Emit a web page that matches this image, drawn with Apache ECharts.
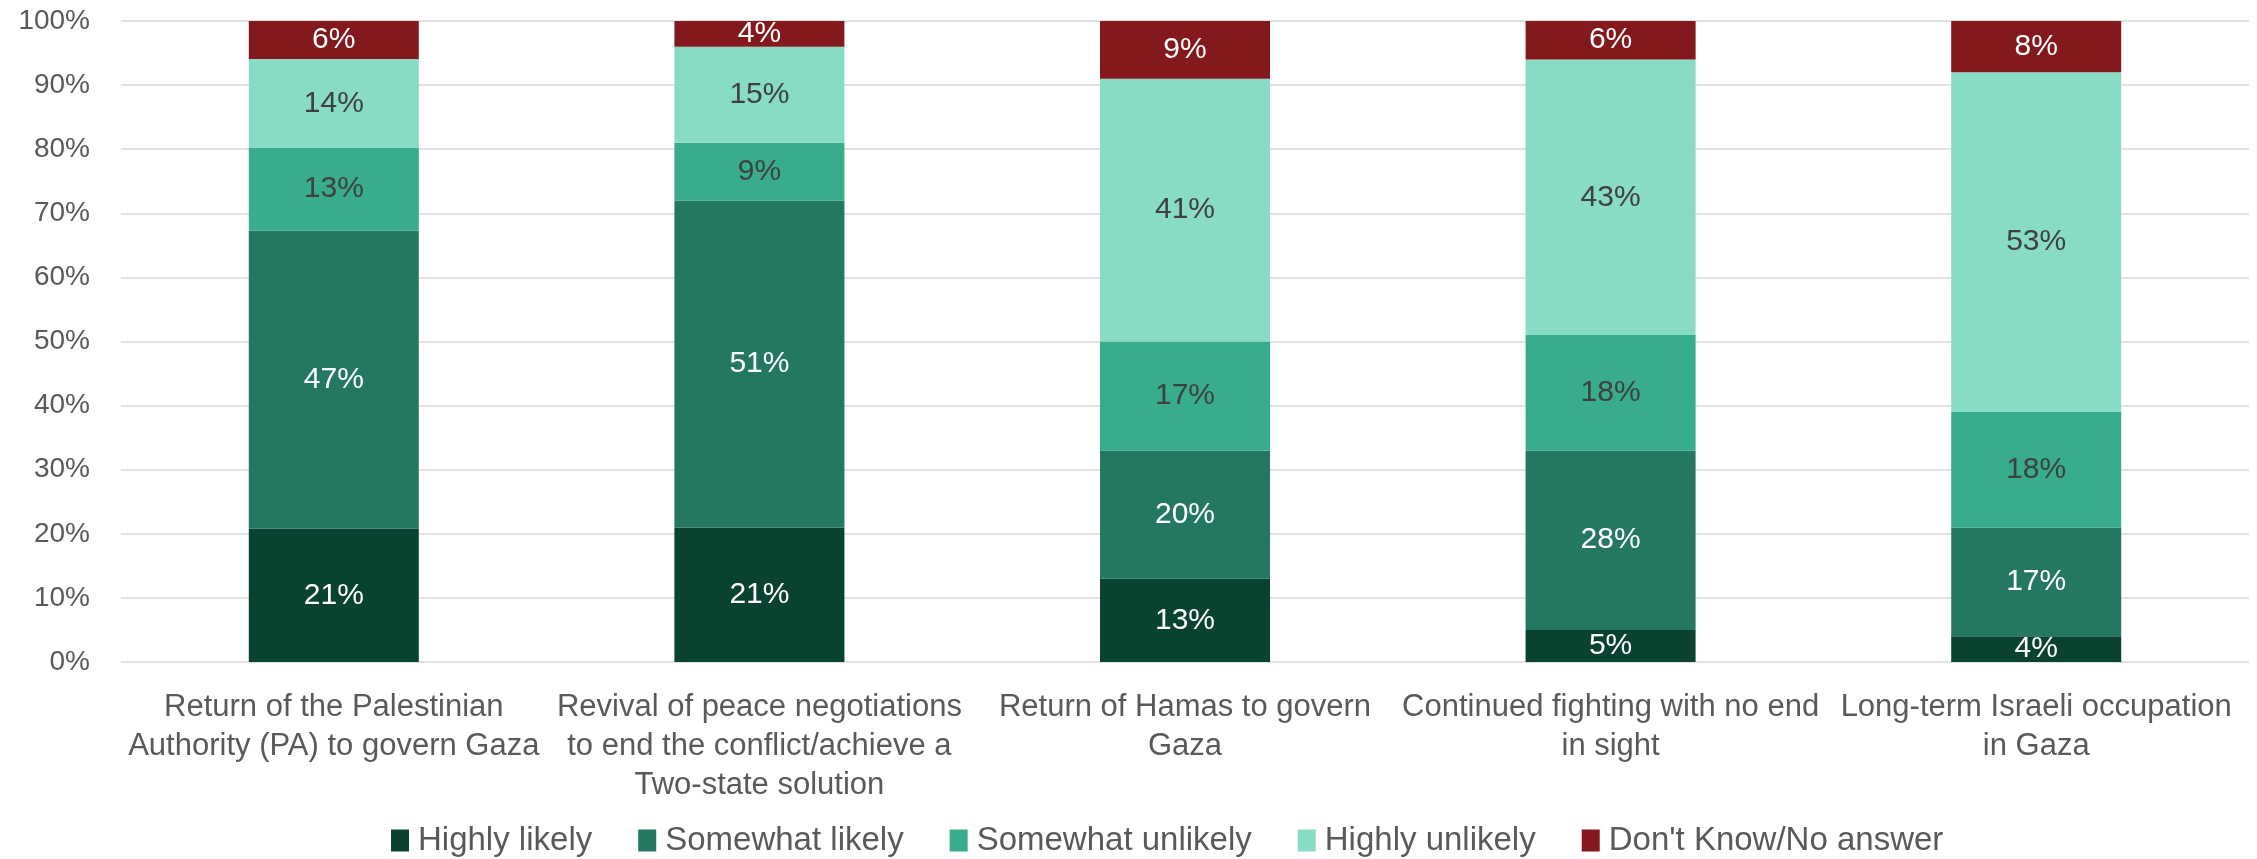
<!DOCTYPE html>
<html>
<head>
<meta charset="utf-8">
<script src="https://cdn.jsdelivr.net/npm/echarts@6/dist/echarts.min.js"></script>
<style>
  html, body { margin: 0; padding: 0; background: #fff; }
  #chart { width: 2257px; height: 859px; }
</style>
</head>
<body>
<div id="chart"></div>
<script>
const categories = [
  'Return of the Palestinian\nAuthority (PA) to govern Gaza',
  'Revival of peace negotiations\nto end the conflict/achieve a\nTwo-state solution',
  'Return of Hamas to govern\nGaza',
  'Continued fighting with no end\nin sight',
  'Long-term Israeli occupation\nin Gaza'
]
const seriesNames = ['Highly likely', 'Somewhat likely', 'Somewhat unlikely', 'Highly unlikely', "Don't Know/No answer"]
const highlyLikely = [21, 21, 13, 5, 4]
const somewhatLikely = [47, 51, 20, 28, 17]
const somewhatUnlikely = [13, 9, 17, 18, 18]
const highlyUnlikely = [14, 15, 41, 43, 53]
const dontKnow = [6, 4, 9, 6, 8]
const yTicks = [0, 10, 20, 30, 40, 50, 60, 70, 80, 90, 100]

const colors = ['#094231', '#247862', '#37AD8D', '#88DBC4', '#83181D']
const labelColors = ['#ffffff', '#ffffff', '#404040', '#404040', '#ffffff']
const allValues = [highlyLikely, somewhatLikely, somewhatUnlikely, highlyUnlikely, dontKnow]

// 100% stacked: each column is scaled to its own total
const totals = categories.map((c, i) => allValues.reduce((s, arr) => s + arr[i], 0))

const chart = echarts.init(document.getElementById('chart'))

const series = allValues.map((arr, k) => ({
  name: seriesNames[k],
  type: 'bar',
  stack: 'total',
  barWidth: 170,
  itemStyle: { color: colors[k] },
  label: {
    show: true,
    position: 'inside',
    color: labelColors[k],
    fontFamily: 'Liberation Sans',
    fontSize: 30,
    formatter: (p) => arr[p.dataIndex] + '%'
  },
  data: arr.map((v, i) => (v / totals[i]) * 100)
}))

chart.setOption({
  backgroundColor: '#ffffff',
  animation: false,
  color: colors,
  grid: {
    left: 121,
    right: 8,
    top: 21,
    bottom: 197,
    outerBoundsMode: 'none'
  },
  legend: {
    top: 819,
    left: 386,
    itemWidth: 18,
    itemHeight: 22,
    itemGap: 46,
    icon: 'rect',
    textStyle: {
      fontFamily: 'Liberation Sans',
      fontSize: 33,
      color: '#595959',
      padding: [0, 0, 0, 4]
    },
    data: seriesNames
  },
  xAxis: {
    type: 'category',
    data: categories,
    axisLine: { show: false },
    axisTick: { show: false },
    axisLabel: {
      interval: 0,
      margin: 26,
      fontFamily: 'Liberation Sans',
      fontSize: 31,
      lineHeight: 39,
      color: '#595959'
    }
  },
  yAxis: {
    type: 'value',
    min: yTicks[0],
    max: yTicks[yTicks.length - 1],
    interval: 10,
    axisLine: { show: false },
    axisTick: { show: false },
    splitLine: { lineStyle: { color: '#d9d9d9', width: 1.5 } },
    axisLabel: {
      margin: 31,
      fontFamily: 'Liberation Sans',
      fontSize: 28,
      color: '#595959',
      formatter: '{value}%'
    }
  },
  series: series
})
</script>
</body>
</html>
